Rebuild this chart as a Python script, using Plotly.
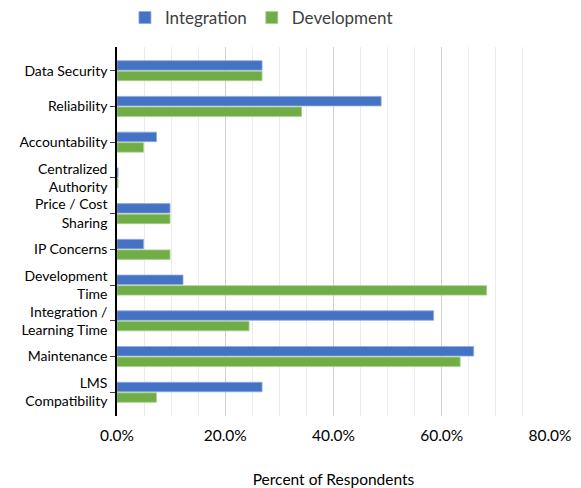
import plotly.graph_objects as go

categories = ["Data Security", "Reliability", "Accountability", "Centralized<br>Authority",
              "Price / Cost<br>Sharing", "IP Concerns", "Development<br>Time",
              "Integration /<br>Learning Time", "Maintenance", "LMS<br>Compatibility"]
integration = [0.268, 0.488, 0.073, 0.002, 0.098, 0.049, 0.122, 0.585, 0.659, 0.268]
development = [0.268, 0.341, 0.049, 0.002, 0.098, 0.098, 0.683, 0.244, 0.634, 0.073]
x_ticks = [0, 0.2, 0.4, 0.6, 0.8]

fig = go.Figure()
fig.add_trace(go.Bar(y=categories, x=integration, name="Integration", orientation="h",
                     marker=dict(color="#4472C4", line=dict(color="#8FAADC", width=0.8))))
fig.add_trace(go.Bar(y=categories, x=development, name="Development", orientation="h",
                     marker=dict(color="#70AD47", line=dict(color="#A9D18E", width=0.8))))

fig.update_layout(
    width=581, height=488,
    margin=dict(l=117, r=31, t=47, b=72, autoexpand=False),
    paper_bgcolor="white", plot_bgcolor="white",
    barmode="group", bargap=0.41, bargroupgap=0.1,
    font=dict(family="Lato, Carlito, sans-serif", color="#000000"),
    legend=dict(orientation="h", x=0.45, xanchor="center", xref="container",
                y=1.0, yanchor="top", yref="container",
                font=dict(size=17, color="#404040"), itemwidth=30),
    xaxis=dict(range=[0, 0.8], tickvals=x_ticks, tickformat=".1%", automargin=False,
               showgrid=True, gridcolor="#D0D0D0", gridwidth=1,
               minor=dict(dtick=0.05, showgrid=True, gridcolor="#EBEBEB", gridwidth=1),
               zeroline=False, showline=False, ticks="", ticklabelstandoff=8,
               tickfont=dict(size=15.5, color="#000000"),
               title=dict(text="Percent of Respondents", font=dict(size=15.5, color="#000000"),
                          standoff=32)),
    yaxis=dict(range=[9.663, -0.663], showline=True, linecolor="#000000", linewidth=1.5,
               automargin=False,
               ticks="outside", ticklen=5, tickcolor="#404040",
               tickfont=dict(size=14, color="#000000"), showgrid=False, zeroline=False),
)

fig.write_html("out.html", config={"displayModeBar": False},
               post_script="document.body.style.margin='0';document.body.style.overflow='hidden';")
